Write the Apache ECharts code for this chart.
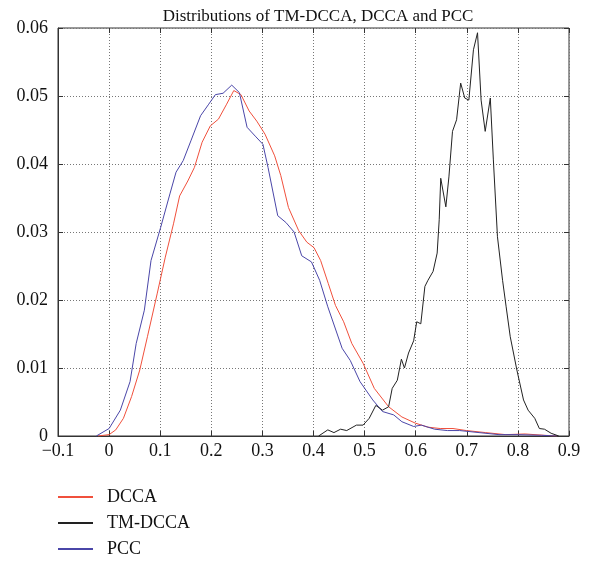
<!DOCTYPE html>
<html>
<head>
<meta charset="utf-8">
<script src="https://cdn.jsdelivr.net/npm/echarts@6/dist/echarts.min.js"></script>
<style>
  html, body { margin: 0; padding: 0; background: #fff; }
  #chart { width: 599px; height: 565px; }
</style>
</head>
<body>
<div id="chart"></div>
<script>
// values
const dccaX = [-0.022, 0, 0.013, 0.028, 0.044, 0.060, 0.075, 0.094, 0.110, 0.126, 0.138, 0.154, 0.167, 0.182, 0.198, 0.214, 0.230, 0.244, 0.258, 0.274, 0.289, 0.305, 0.324, 0.336, 0.351, 0.371, 0.387, 0.401, 0.414, 0.429, 0.443, 0.459, 0.475, 0.497, 0.519, 0.547, 0.573, 0.599, 0.624, 0.648, 0.673, 0.699, 0.737, 0.776, 0.814, 0.852, 0.877];
const dccaY = [0, 0.0002, 0.0009, 0.0026, 0.0058, 0.0097, 0.0146, 0.0209, 0.0263, 0.0312, 0.0353, 0.0375, 0.0395, 0.0432, 0.0456, 0.0466, 0.0488, 0.0508, 0.0502, 0.0478, 0.0463, 0.0444, 0.0412, 0.0383, 0.0336, 0.0302, 0.0285, 0.0277, 0.0258, 0.0224, 0.0192, 0.0168, 0.0136, 0.0107, 0.0070, 0.0043, 0.0028, 0.0019, 0.0013, 0.0011, 0.0011, 0.0008, 0.0005, 0.0002, 0.0003, 0.0001, 0];

const tmX = [0.410, 0.428, 0.440, 0.453, 0.465, 0.484, 0.497, 0.509, 0.522, 0.535, 0.547, 0.554, 0.564, 0.572, 0.578, 0.586, 0.596, 0.602, 0.610, 0.618, 0.624, 0.634, 0.642, 0.646, 0.649, 0.659, 0.665, 0.672, 0.680, 0.688, 0.696, 0.704, 0.713, 0.721, 0.728, 0.736, 0.746, 0.752, 0.760, 0.770, 0.777, 0.785, 0.798, 0.811, 0.820, 0.833, 0.842, 0.852, 0.865, 0.880];
const tmY = [0, 0.0009, 0.0005, 0.0010, 0.0008, 0.0016, 0.0016, 0.0026, 0.0045, 0.0038, 0.0043, 0.0070, 0.0082, 0.0113, 0.0100, 0.0122, 0.0140, 0.0168, 0.0165, 0.0220, 0.0229, 0.0242, 0.0269, 0.0318, 0.0379, 0.0337, 0.0381, 0.0448, 0.0465, 0.0519, 0.0497, 0.0494, 0.0568, 0.0593, 0.0494, 0.0448, 0.0497, 0.0406, 0.0293, 0.0229, 0.0190, 0.0146, 0.0097, 0.0053, 0.0038, 0.0026, 0.0011, 0.0010, 0.0004, 0];

const pccX = [-0.025, 0, 0.022, 0.041, 0.053, 0.069, 0.082, 0.101, 0.119, 0.131, 0.145, 0.160, 0.179, 0.195, 0.208, 0.223, 0.240, 0.255, 0.270, 0.286, 0.301, 0.311, 0.330, 0.346, 0.362, 0.377, 0.396, 0.412, 0.428, 0.456, 0.472, 0.491, 0.516, 0.535, 0.557, 0.573, 0.596, 0.611, 0.637, 0.662, 0.686, 0.724, 0.763, 0.801, 0.846, 0.877];
const pccY = [0, 0.0011, 0.0038, 0.0080, 0.0136, 0.0185, 0.0258, 0.0307, 0.0356, 0.0388, 0.0405, 0.0434, 0.0471, 0.0488, 0.0502, 0.0504, 0.0516, 0.0505, 0.0454, 0.0441, 0.0429, 0.0395, 0.0324, 0.0314, 0.0300, 0.0265, 0.0256, 0.0229, 0.0190, 0.0129, 0.0111, 0.0080, 0.0053, 0.0036, 0.0031, 0.0021, 0.0014, 0.0016, 0.0010, 0.0008, 0.0008, 0.0005, 0.0002, 0.0002, 0.0001, 0];

const seriesNames = ['DCCA', 'TM-DCCA', 'PCC'];
const seriesColors = ['#f0503c', '#222222', '#4a46a8'];

const serif = '"Liberation Serif", "DejaVu Serif", serif';

function pairs(xs, ys) {
  return xs.map((x, i) => [x, ys[i]]);
}

function xLabel(v) {
  if (Math.abs(v) < 1e-9) return '0';
  return v.toFixed(1).replace('-', '\u2212');
}
function yLabel(v) {
  if (Math.abs(v) < 1e-9) return '0';
  return v.toFixed(2);
}

const chart = echarts.init(document.getElementById('chart'), null, { renderer: 'canvas' });

const gridLine = { show: true, lineStyle: { color: '#777', type: [1, 2], width: 1 } };
const tick = { show: true, inside: true, length: 5, lineStyle: { color: '#333' } };

chart.setOption({
  animation: false,
  backgroundColor: '#fff',
  title: {
    text: 'Distributions of TM-DCCA, DCCA and PCC',
    left: 313,
    textAlign: 'center',
    top: 3,
    textStyle: { fontFamily: serif, fontSize: 17, fontWeight: 'normal', color: '#111' }
  },
  grid: {
    left: 58, right: 30, top: 28, bottom: 129,
    show: true, borderColor: '#333', borderWidth: 1, backgroundColor: 'transparent'
  },
  legend: {
    orient: 'vertical',
    left: 58,
    top: 488,
    padding: 0,
    height: 90,
    itemWidth: 35,
    itemHeight: 2,
    itemGap: 8,
    icon: 'rect',
    data: seriesNames,
    textStyle: { fontFamily: serif, fontSize: 18, color: '#111', padding: [0, 0, 0, 9], lineHeight: 18 }
  },
  xAxis: [{
    type: 'value',
    min: -0.1, max: 0.9, interval: 0.1,
    axisLine: { show: true, onZero: false, lineStyle: { color: '#333' } },
    axisTick: tick,
    axisLabel: { formatter: xLabel, fontFamily: serif, fontSize: 18, color: '#111', margin: 6 },
    splitLine: gridLine
  }, {
    type: 'value', position: 'top',
    min: -0.1, max: 0.9, interval: 0.1,
    axisLine: { show: false, onZero: false },
    axisTick: tick,
    axisLabel: { show: false },
    splitLine: { show: false }
  }],
  yAxis: [{
    type: 'value',
    min: 0, max: 0.06, interval: 0.01,
    axisLine: { show: true, onZero: false, lineStyle: { color: '#333' } },
    axisTick: tick,
    axisLabel: { formatter: yLabel, fontFamily: serif, fontSize: 18, color: '#111', margin: 10 },
    splitLine: gridLine
  }, {
    type: 'value', position: 'right',
    min: 0, max: 0.06, interval: 0.01,
    axisLine: { show: false, onZero: false },
    axisTick: tick,
    axisLabel: { show: false },
    splitLine: { show: false }
  }],
  series: [
    { name: 'DCCA', type: 'line', data: pairs(dccaX, dccaY) },
    { name: 'TM-DCCA', type: 'line', data: pairs(tmX, tmY) },
    { name: 'PCC', type: 'line', data: pairs(pccX, pccY) }
  ].map((s, i) => Object.assign(s, {
    showSymbol: false,
    symbol: 'none',
    color: seriesColors[i],
    lineStyle: { width: 1, color: seriesColors[i] },
    z: i === 1 ? 3 : 2
  }))
});
</script>
</body>
</html>
